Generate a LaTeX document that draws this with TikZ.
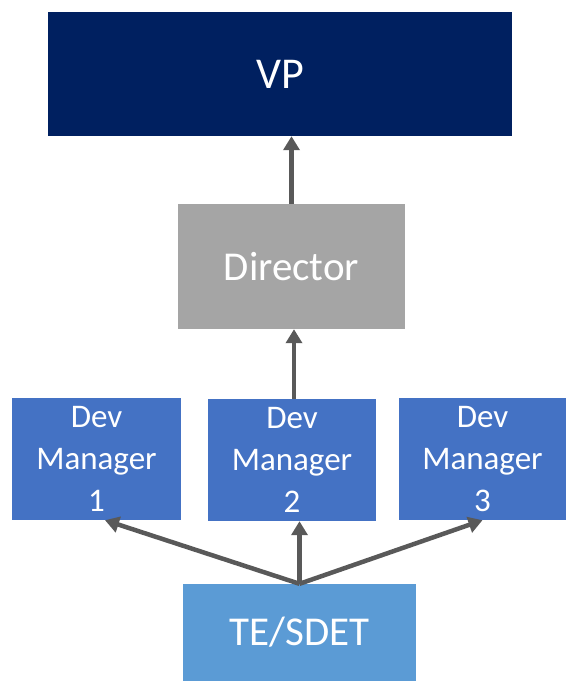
\documentclass[tikz,border=0pt]{standalone}
\usepackage{fontspec}
\setmainfont{Carlito}
\usetikzlibrary{arrows.meta}
\definecolor{vpcol}{HTML}{002060}
\definecolor{dircol}{HTML}{A5A5A5}
\definecolor{dmcol}{HTML}{4472C4}
\definecolor{tecol}{HTML}{5B9BD5}
\definecolor{arrcol}{HTML}{595959}
\begin{document}
\begin{tikzpicture}[x=1pt,y=1pt,
  box/.style={rectangle, inner sep=0pt, text=white, align=center},
  dmbox/.style={box, fill=dmcol, minimum height=122pt, font=\fontsize{33}{42}\selectfont},
  arr/.style={draw=arrcol, line width=4.5pt, -{Triangle[width=16pt,length=14pt]}}]
\useasboundingbox (0,0) rectangle (566,-681);
\node[box, fill=vpcol, minimum width=464pt, minimum height=124pt, font=\fontsize{44}{53}\selectfont] (vp) at (280,-74) {VP};
\node[box, fill=dircol, minimum width=227pt, minimum height=125pt, font=\fontsize{41}{49}\selectfont] (dir) at (291.5,-266.5) {Director};
\node[dmbox, minimum width=169pt] (dm1) at (96.5,-459) {Dev\\Manager\\1};
\node[dmbox, minimum width=168pt] (dm2) at (292,-460) {Dev\\Manager\\2};
\node[dmbox, minimum width=167pt] (dm3) at (482.5,-459) {Dev\\Manager\\3};
\node[box, fill=tecol, minimum width=233pt, minimum height=97pt, font=\fontsize{41}{49}\selectfont] (te) at (299.5,-632.5) {TE/SDET};
\coordinate (hub) at (te.north);
\draw[arr] (hub) -- ([xshift=8.5pt]dm1.south);
\draw[arr] (hub) -- (hub |- dm2.south);
\draw[arr] (hub) -- (dm3.south);
\draw[arr] ([xshift=2pt]dm2.north) -- ([xshift=2pt]dm2.north |- dir.south);
\draw[arr] (dir.north) -- (dir.north |- vp.south);
\end{tikzpicture}
\end{document}
